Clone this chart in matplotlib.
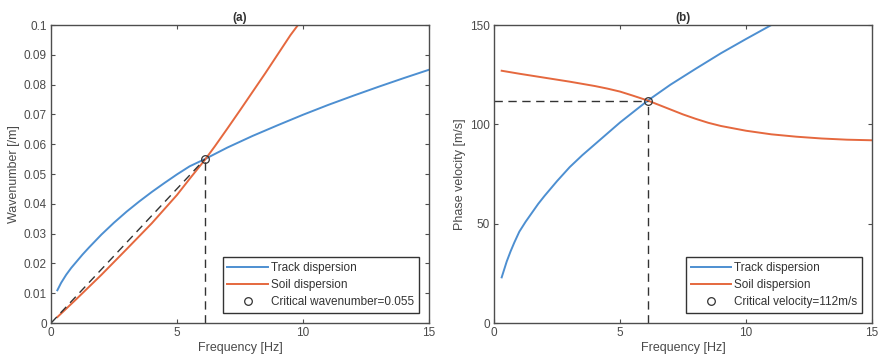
import matplotlib
matplotlib.use('Agg')
import matplotlib.pyplot as plt

plt.rcParams['font.family'] = ['Liberation Sans', 'DejaVu Sans']

# (a) wavenumber vs frequency
freq_track_a = [0.25, 0.4, 0.6, 0.8, 1, 1.25, 1.5, 1.75, 2, 2.5, 3, 3.5, 4, 4.5, 5, 5.5, 6.1,
                7, 8, 9, 10, 11, 12, 13, 14, 15]
k_track = [0.011, 0.0135, 0.0162, 0.0185, 0.0205, 0.0230, 0.0253, 0.0275, 0.0297, 0.0337, 0.0374,
           0.0408, 0.0440, 0.0470, 0.0499, 0.0526, 0.055,
           0.0589, 0.0628, 0.0664, 0.0699, 0.0732, 0.0763, 0.0793, 0.0822, 0.085]
freq_soil_a = [0.25, 1, 2, 3, 4, 5, 5.5, 6.1, 6.5, 7, 7.5, 8, 8.5, 9, 9.5, 9.8, 10.5]
k_soil = [0.002, 0.0080, 0.0162, 0.0248, 0.0335, 0.0430, 0.0484, 0.0547, 0.0593, 0.0653, 0.0714,
          0.0776, 0.0838, 0.0902, 0.0966, 0.100, 0.108]

# (b) phase velocity vs frequency
freq_track_b = [0.3, 0.4, 0.5, 0.65, 0.8, 1, 1.25, 1.5, 1.75, 2, 2.5, 3, 3.5, 4, 4.5, 5, 5.5,
                6.1, 7, 8, 9, 10, 11, 11.5]
v_track = [23, 27, 31, 36, 40.5, 46, 51, 55.5, 60, 64, 71.5, 78.5, 84.5, 90, 95.5, 101, 106,
           112, 120, 128, 135.8, 143, 150, 153]
freq_soil_b = [0.3, 1, 2, 3, 4, 4.5, 5, 5.5, 6.1, 6.5, 7, 7.5, 8, 8.5, 9, 10, 11, 12, 13, 14, 15]
v_soil = [127, 125.5, 123.5, 121.5, 119.3, 118, 116.5, 114.5, 112, 110, 107.5, 105, 102.8, 100.8,
          99.2, 96.8, 95, 93.8, 92.9, 92.3, 92]

crit_f = 6.1
crit_k = 0.055
crit_v = 112

blue = '#4d8fd1'
orange = '#e5683e'
axc = '#4d4d4d'
txt = '#4a4a4a'

fig = plt.figure(figsize=(8.8, 3.63), dpi=100)
ax1 = fig.add_axes([0.058, 0.110, 0.4295, 0.821])
ax2 = fig.add_axes([0.5615, 0.110, 0.4295, 0.821])

ax1.plot(freq_track_a, k_track, color=blue, lw=1.4, label='Track dispersion')
ax1.plot(freq_soil_a, k_soil, color=orange, lw=1.4, label='Soil dispersion')
ax1.plot([0, crit_f], [0, crit_k], color='#333333', lw=1.0, ls=(0, (6, 4)))
ax1.plot([crit_f, crit_f], [0, crit_k], color='#333333', lw=1.0, ls=(0, (6, 4)))
ax1.plot([crit_f], [crit_k], 'o', mfc='none', mec='#333333', ms=5.5, mew=0.9,
         label='Critical wavenumber=0.055')
ax1.set_xlim(0, 15)
ax1.set_ylim(0, 0.1)
ax1.set_yticks([i / 100 for i in range(11)])
ax1.set_yticklabels(['0'] + ['0.0%d' % i for i in range(1, 10)] + ['0.1'])
ax1.set_ylabel('Wavenumber [/m]', color=txt, fontsize=9, labelpad=3)
ax1.set_title('(a)', fontsize=8.5, fontweight='bold', color='#333333', pad=3)

ax2.plot(freq_track_b, v_track, color=blue, lw=1.4, label='Track dispersion')
ax2.plot(freq_soil_b, v_soil, color=orange, lw=1.4, label='Soil dispersion')
ax2.plot([0, crit_f], [crit_v, crit_v], color='#333333', lw=1.0, ls=(0, (6, 4)))
ax2.plot([crit_f, crit_f], [0, crit_v], color='#333333', lw=1.0, ls=(0, (6, 4)))
ax2.plot([crit_f], [crit_v], 'o', mfc='none', mec='#333333', ms=5.5, mew=0.9,
         label='Critical velocity=112m/s')
ax2.set_xlim(0, 15)
ax2.set_ylim(0, 150)
ax2.set_yticks([0, 50, 100, 150])
ax2.set_ylabel('Phase velocity [m/s]', color=txt, fontsize=9, labelpad=3)
ax2.set_title('(b)', fontsize=8.5, fontweight='bold', color='#333333', pad=3)

for ax in (ax1, ax2):
    ax.set_xticks([0, 5, 10, 15])
    ax.set_xlabel('Frequency [Hz]', color=txt, fontsize=9, labelpad=2)
    ax.tick_params(direction='in', top=True, right=True, length=3, width=0.8,
                   colors=axc, labelcolor=txt, labelsize=8.5, pad=3)
    for s in ax.spines.values():
        s.set_color(axc)
        s.set_linewidth(1.0)
    leg = ax.legend(loc='lower right', fontsize=8.5, handlelength=3.4, handletextpad=0.3,
                    borderpad=0.4, labelspacing=0.45, fancybox=False, framealpha=1,
                    borderaxespad=0.85)
    leg.get_frame().set_edgecolor('#333333')
    leg.get_frame().set_linewidth(1.0)
    for t in leg.get_texts():
        t.set_color('#333333')

fig.savefig('out.png', dpi=100)
